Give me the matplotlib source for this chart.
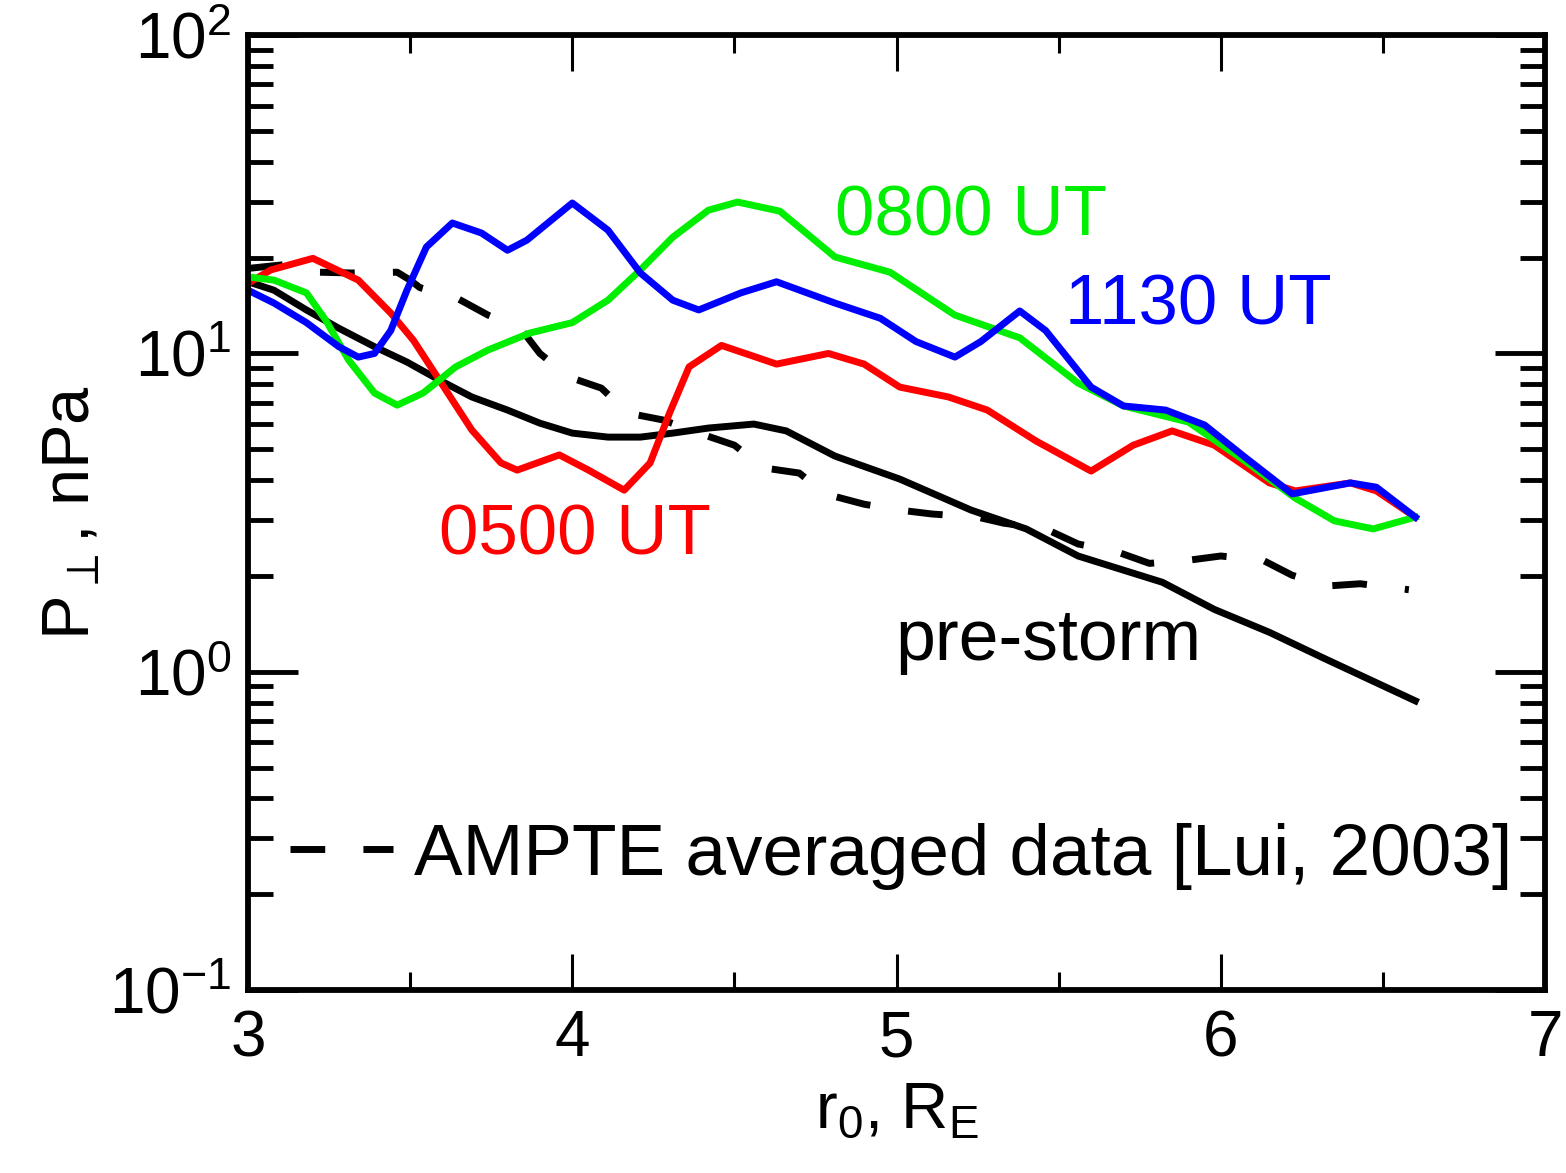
import matplotlib
matplotlib.use('Agg')
import matplotlib.pyplot as plt
from matplotlib.lines import Line2D
from matplotlib.ticker import MultipleLocator, LogLocator

plt.rcParams['font.family'] = ['Liberation Sans', 'DejaVu Sans']
plt.rcParams['mathtext.default'] = 'regular'

# pre-storm (solid black)
pre_r = [3.00, 3.08, 3.18, 3.28, 3.39, 3.49, 3.59, 3.69, 3.80, 3.90, 4.00, 4.11, 4.21,
         4.31, 4.42, 4.56, 4.66, 4.81, 5.01, 5.23, 5.40, 5.56, 5.82, 5.98, 6.15, 6.32, 6.60]
pre_p = [16.8, 15.8, 13.7, 12.0, 10.5, 9.40, 8.25, 7.30, 6.64, 6.04, 5.62, 5.46, 5.46,
         5.62, 5.83, 6.00, 5.71, 4.76, 4.03, 3.22, 2.81, 2.31, 1.91, 1.57, 1.33, 1.10, 0.81]

# 0500 UT (red)
r05 = [3.00, 3.07, 3.20, 3.34, 3.44, 3.51, 3.59, 3.69, 3.78, 3.83, 3.96, 4.05, 4.16,
       4.24, 4.30, 4.36, 4.46, 4.63, 4.79, 4.90, 5.01, 5.16, 5.28, 5.43, 5.60, 5.73,
       5.85, 5.98, 6.15, 6.23, 6.40, 6.48, 6.60]
p05 = [16.6, 18.3, 19.9, 17.0, 13.4, 11.0, 8.25, 5.75, 4.53, 4.30, 4.80, 4.30, 3.72,
       4.53, 6.50, 9.07, 10.6, 9.26, 10.0, 9.26, 7.84, 7.30, 6.64, 5.31, 4.27, 5.15,
       5.71, 5.15, 3.92, 3.70, 3.92, 3.70, 3.06]

# 0800 UT (green)
r08 = [3.00, 3.08, 3.18, 3.24, 3.31, 3.39, 3.46, 3.54, 3.64, 3.74, 3.87, 4.00, 4.11,
       4.21, 4.31, 4.42, 4.51, 4.64, 4.81, 4.98, 5.18, 5.38, 5.56, 5.70, 5.90, 6.07,
       6.23, 6.35, 6.47, 6.60]
p08 = [17.4, 17.0, 15.5, 12.7, 9.54, 7.51, 6.88, 7.51, 9.07, 10.25, 11.6, 12.5, 14.7,
       18.3, 23.2, 28.2, 29.9, 28.0, 20.1, 18.0, 13.2, 11.2, 8.07, 6.84, 6.09, 4.63,
       3.51, 2.98, 2.81, 3.06]

# 1130 UT (blue)
r11 = [3.00, 3.08, 3.18, 3.28, 3.34, 3.39, 3.44, 3.49, 3.55, 3.63, 3.72, 3.80, 3.86,
       4.00, 4.11, 4.21, 4.31, 4.39, 4.52, 4.63, 4.81, 4.95, 5.06, 5.18, 5.26, 5.38,
       5.46, 5.60, 5.70, 5.83, 5.95, 6.07, 6.22, 6.40, 6.48, 6.60]
p11 = [15.8, 14.4, 12.5, 10.5, 9.74, 10.0, 11.8, 15.8, 21.6, 25.7, 23.9, 21.1, 22.7,
       29.7, 24.4, 17.9, 14.7, 13.7, 15.5, 16.8, 14.4, 12.9, 10.9, 9.74, 10.9, 13.6,
       11.8, 7.84, 6.84, 6.64, 5.96, 4.76, 3.62, 3.92, 3.80, 3.06]

# AMPTE averaged data (dashed black)
amp_r = [3.00, 3.11, 3.22, 3.32, 3.46, 3.50, 3.53, 3.64, 3.74, 3.84, 3.90, 3.99, 4.09,
         4.17, 4.28, 4.39, 4.50, 4.59, 4.70, 4.78, 4.90, 5.01, 5.11, 5.25, 5.33, 5.46,
         5.56, 5.68, 5.78, 5.90, 6.00, 6.13, 6.22, 6.33, 6.43, 6.58]
amp_p = [18.5, 19.0, 18.0, 17.9, 18.0, 17.0, 16.1, 15.0, 13.2, 12.0, 10.0, 8.43, 7.78,
         6.50, 6.18, 5.62, 5.15, 4.37, 4.21, 3.62, 3.36, 3.22, 3.13, 3.06, 2.93, 2.81,
         2.52, 2.38, 2.19, 2.24, 2.31, 2.24, 2.01, 1.86, 1.89, 1.81]

LW = 5.0
DASH = (0, (5, 5.5))

fig = plt.figure(figsize=(15.66, 11.73), dpi=100)
ax = fig.add_axes([0.1584, 0.156, 0.8282, 0.814])

ax.plot(amp_r, amp_p, color='black', lw=LW, linestyle=DASH)
ax.plot(pre_r, pre_p, color='black', lw=LW, solid_joinstyle='round')
ax.plot(r05, p05, color='#ff0000', lw=LW, solid_joinstyle='round')
ax.plot(r08, p08, color='#00ee00', lw=LW, solid_joinstyle='round')
ax.plot(r11, p11, color='#0000ff', lw=LW, solid_joinstyle='round')

ax.set_yscale('log')
ax.set_xlim(3, 7)
ax.set_ylim(0.1, 100)
ax.xaxis.set_major_locator(MultipleLocator(1))
ax.xaxis.set_minor_locator(MultipleLocator(0.5))
ax.yaxis.set_major_locator(LogLocator(base=10))
ax.yaxis.set_minor_locator(LogLocator(base=10, subs=range(2, 10)))

for s in ax.spines.values():
    s.set_linewidth(4.2)

ax.tick_params(axis='x', which='major', direction='in', length=26, width=2.2,
               top=True, bottom=True, labelsize=46, pad=14)
ax.tick_params(axis='x', which='minor', direction='in', length=13, width=2.2,
               top=True, bottom=True)
ax.tick_params(axis='y', which='major', direction='in', length=36, width=3.5,
               left=True, right=True, labelsize=46, pad=12)
ax.tick_params(axis='y', which='minor', direction='in', length=18, width=3.5,
               left=True, right=True)

ax.set_xlabel('r$_0$, R$_E$', fontsize=47, labelpad=8)
ax.set_ylabel(r'P$_\perp$, nPa', fontsize=48, labelpad=4)

ax.text(4.81, 23.5, '0800 UT', color='#00ee00', fontsize=51)
ax.text(5.52, 12.3, '1130 UT', color='#0000ff', fontsize=51)
ax.text(3.59, 2.33, '0500 UT', color='#ff0000', fontsize=51)
ax.text(4.995, 1.09, 'pre-storm', color='black', fontsize=51.5)

handle = Line2D([], [], color='black', lw=LW, linestyle=DASH)
ax.legend([handle], ['AMPTE averaged data [Lui, 2003]'], loc='center left',
          bbox_to_anchor=(0.032, 0.14), frameon=False, fontsize=52.5,
          handlelength=1.42, handletextpad=0.28, borderpad=0, borderaxespad=0)

fig.savefig('out.png', dpi=100)
